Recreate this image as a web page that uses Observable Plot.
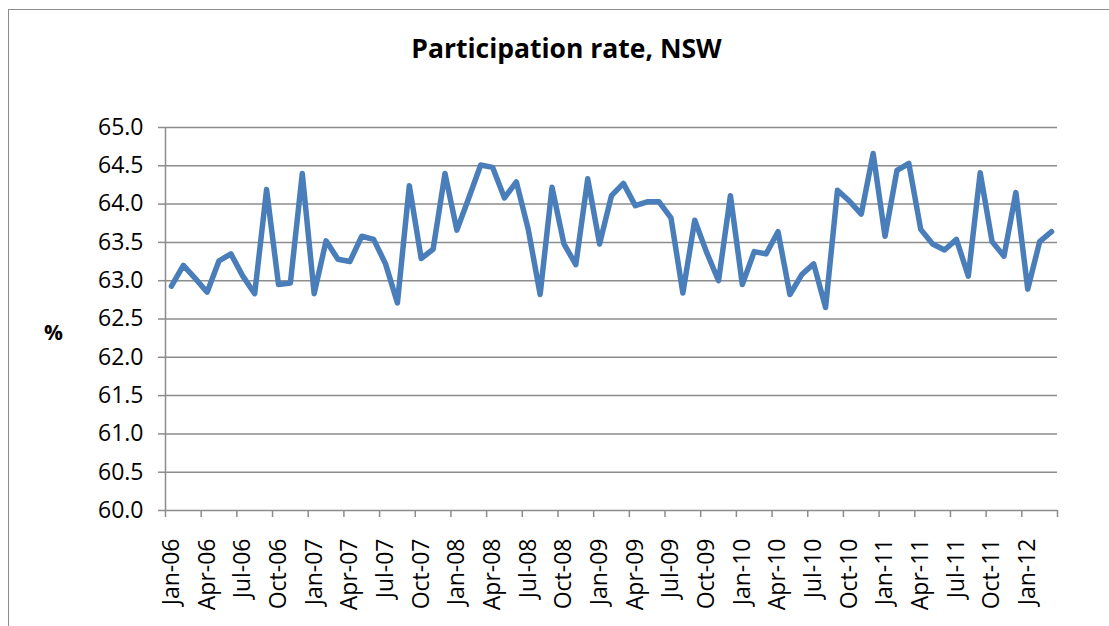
<!DOCTYPE html>
<html>
<head>
<meta charset="utf-8">
<script src="https://cdn.jsdelivr.net/npm/d3@7"></script>
<script src="https://cdn.jsdelivr.net/npm/@observablehq/plot@0.6"></script>
<style>
  html, body { margin: 0; padding: 0; background: #fff; }
  #wrap { position: relative; width: 1109px; height: 626px; overflow: hidden; font-family: "Open Sans", sans-serif; }
  #frame { position: absolute; left: 8px; top: 9px; width: 1120px; height: 640px; border: 1.5px solid #8c8c8c; box-sizing: border-box; }
  #title { position: absolute; left: 0; width: 1133px; top: 35px; text-align: center; font-weight: bold; font-size: 26.5px; color: #000; line-height: 1; }
  #ylab { position: absolute; left: 44px; top: 322px; font-weight: bold; font-size: 21px; color: #000; line-height: 1; }
  #chart { position: absolute; left: 0; top: 0; }
</style>
</head>
<body>
<div id="wrap">
  <div id="frame"></div>
  <div id="title">Participation rate, NSW</div>
  <div id="ylab">%</div>
  <div id="chart"></div>
</div>
<script>
// Monthly participation rate, NSW, Jan-06 .. Mar-12 (%)
const rates = [
  62.93, 63.20, 63.03, 62.85, 63.26, 63.35, 63.06, 62.83, 64.19, 62.95, 62.97, 64.40,
  62.83, 63.52, 63.28, 63.25, 63.58, 63.54, 63.22, 62.71, 64.24, 63.29, 63.41, 64.40,
  63.66, 64.08, 64.51, 64.48, 64.08, 64.29, 63.67, 62.82, 64.22, 63.48, 63.21, 64.33,
  63.48, 64.11, 64.27, 63.98, 64.03, 64.03, 63.82, 62.84, 63.79, 63.37, 63.00, 64.11,
  62.95, 63.38, 63.35, 63.64, 62.82, 63.08, 63.22, 62.65, 64.18, 64.04, 63.87, 64.66,
  63.58, 64.44, 64.53, 63.67, 63.48, 63.40, 63.54, 63.06, 64.41, 63.51, 63.32, 64.15,
  62.89, 63.51, 63.64
];
const tickLabels = [
  "Jan-06","Apr-06","Jul-06","Oct-06","Jan-07","Apr-07","Jul-07","Oct-07",
  "Jan-08","Apr-08","Jul-08","Oct-08","Jan-09","Apr-09","Jul-09","Oct-09",
  "Jan-10","Apr-10","Jul-10","Oct-10","Jan-11","Apr-11","Jul-11","Oct-11","Jan-12"
];
const yTicks = [60, 60.5, 61, 61.5, 62, 62.5, 63, 63.5, 64, 64.5, 65];

const data = rates.map((v, i) => ({i: i + 0.5, v}));
const nMonths = rates.length;
const tickMarks = d3.range(0, nMonths + 1, 3);
const labelPos = tickLabels.map((_, k) => k * 3 + 0.5);

const grid = "#8c8c8c";
const chart = Plot.plot({
  width: 1109,
  height: 626,
  marginLeft: 165,
  marginRight: 52,
  marginTop: 127,
  marginBottom: 116,
  style: {fontFamily: "Open Sans, sans-serif", fontSize: "23px", color: "#000", background: "transparent", overflow: "visible"},
  x: {domain: [0, nMonths]},
  y: {domain: [60, 65]},
  marks: [
    Plot.gridY(yTicks, {stroke: grid, strokeOpacity: 1, strokeWidth: 1.5}),
    Plot.ruleX([0], {stroke: grid, strokeWidth: 1.5}),
    Plot.axisY(yTicks, {tickSize: 7, tickPadding: 15, stroke: grid, strokeWidth: 1.5, tickFormat: d => d.toFixed(1), label: null, fontSize: 23}),
    Plot.axisX(tickMarks, {tickSize: 7, stroke: grid, strokeWidth: 1.5, tickFormat: () => "", label: null}),
    Plot.axisX(labelPos, {tickSize: 0, tickPadding: 28, tickRotate: -90, textAnchor: "end", tickFormat: (d, k) => tickLabels[k], label: null, fontSize: 23}),
    Plot.line(data, {x: "i", y: "v", stroke: "#4a7ebb", strokeWidth: 5.5, strokeLinejoin: "round", strokeLinecap: "round"})
  ]
});
document.getElementById("chart").appendChild(chart);
</script>
</body>
</html>
